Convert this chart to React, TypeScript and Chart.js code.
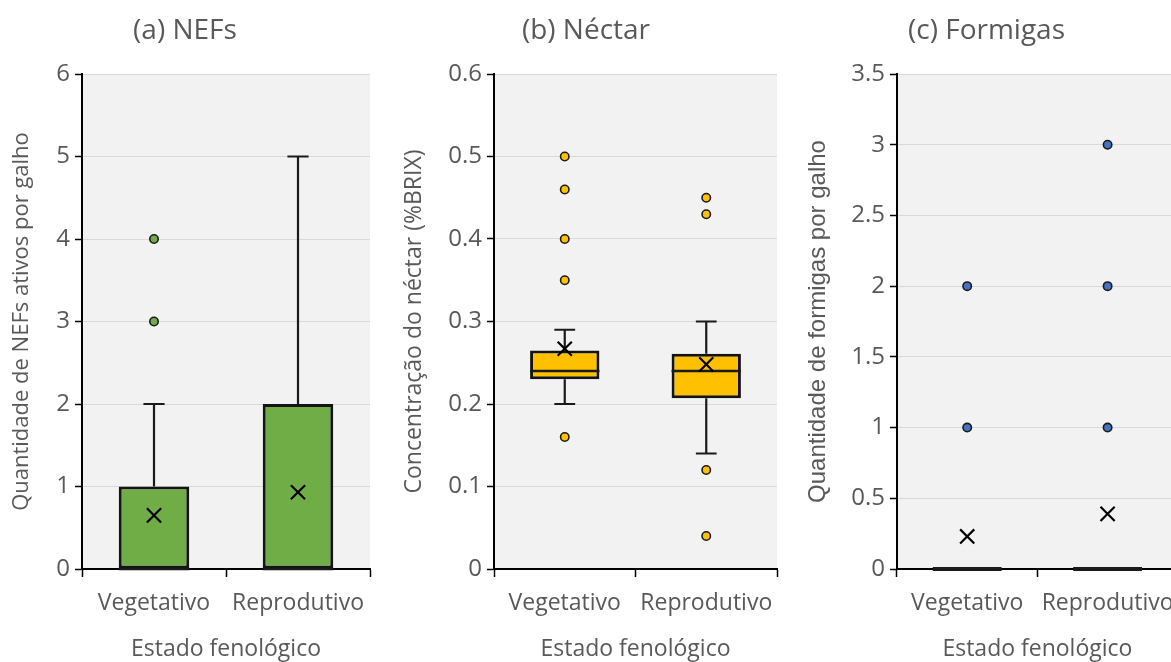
import React, { useEffect, useRef } from 'react';
import { Chart, registerables } from 'chart.js';

Chart.register(...registerables);

const categories = ['Vegetativo', 'Reprodutivo'];

// (a) NEFs
const nefMin = [0, 0];
const nefQ1 = [0, 0];
const nefMedian = [0, 0];
const nefQ3 = [1, 2];
const nefMax = [2, 5];
const nefMean = [0.65, 0.93];
const nefOutliersVeg = [3, 4];
const nefOutliersRep: number[] = [];
const nefTicks = [0, 1, 2, 3, 4, 5, 6];

// (b) Néctar
const nectarMin = [0.2, 0.14];
const nectarQ1 = [0.23, 0.207];
const nectarMedian = [0.24, 0.24];
const nectarQ3 = [0.265, 0.261];
const nectarMax = [0.29, 0.3];
const nectarMean = [0.267, 0.248];
const nectarOutliersVeg = [0.5, 0.46, 0.4, 0.35, 0.16];
const nectarOutliersRep = [0.45, 0.43, 0.12, 0.04];
const nectarTicks = [0, 0.1, 0.2, 0.3, 0.4, 0.5, 0.6];

// (c) Formigas
const antMin = [0, 0];
const antQ1 = [0, 0];
const antMedian = [0, 0];
const antQ3 = [0, 0];
const antMax = [0, 0];
const antMean = [0.23, 0.39];
const antOutliersVeg = [1, 2];
const antOutliersRep = [1, 2, 3];
const antTicks = [0, 0.5, 1, 1.5, 2, 2.5, 3, 3.5];

const TEXT = '#595959';

const boxPlugin = {
  id: 'boxWhisker',
  beforeDraw(chart: any, _args: any, opts: any) {
    const { ctx, chartArea: a } = chart;
    ctx.save();
    ctx.fillStyle = opts.background;
    ctx.fillRect(a.left, a.top, a.right - a.left, a.bottom - a.top);
    ctx.restore();
  },
  beforeDatasetsDraw(chart: any, _args: any, opts: any) {
    const { ctx } = chart;
    const y = chart.scales.y;
    const meta = chart.getDatasetMeta(opts.boxIndex);
    ctx.save();
    ctx.strokeStyle = opts.lineColor;
    ctx.lineWidth = opts.whiskerWidth;
    meta.data.forEach((bar: any, i: number) => {
      const { x, width } = bar.getProps(['x', 'width'], true);
      const capHalf = (width * opts.capFraction) / 2;
      const pairs = [
        [opts.q3[i], opts.max[i]],
        [opts.q1[i], opts.min[i]],
      ];
      pairs.forEach(([from, to]) => {
        if (from === to) return;
        const y0 = y.getPixelForValue(from);
        const y1 = y.getPixelForValue(to);
        ctx.beginPath();
        ctx.moveTo(x, y0);
        ctx.lineTo(x, y1);
        ctx.moveTo(x - capHalf, y1);
        ctx.lineTo(x + capHalf, y1);
        ctx.stroke();
      });
    });
    ctx.restore();
  },
  afterDatasetDraw(chart: any, args: any, opts: any) {
    if (args.index !== opts.boxIndex) return;
    const { ctx } = chart;
    const y = chart.scales.y;
    const meta = chart.getDatasetMeta(opts.boxIndex);
    ctx.save();
    ctx.strokeStyle = opts.lineColor;
    meta.data.forEach((bar: any, i: number) => {
      const { x, width } = bar.getProps(['x', 'width'], true);
      const py = y.getPixelForValue(opts.median[i]);
      ctx.lineWidth = opts.q1[i] === opts.q3[i] ? opts.flatWidth : opts.medianWidth;
      ctx.beginPath();
      ctx.moveTo(x - width / 2, py);
      ctx.lineTo(x + width / 2, py);
      ctx.stroke();
    });
    ctx.restore();
  },
};

type PanelProps = {
  left: number;
  width: number;
  yAxisWidth: number;
  padRight: number;
  title: string;
  yTitle: string;
  yTitleFont: { family: string; size: number };
  yTitlePad: number;
  ticks: number[];
  yMax: number;
  min: number[];
  q1: number[];
  median: number[];
  q3: number[];
  max: number[];
  mean: number[];
  outVeg: number[];
  outRep: number[];
  color: string;
};

function BoxPanel(p: PanelProps) {
  const ref = useRef<HTMLCanvasElement | null>(null);
  useEffect(() => {
    if (!ref.current) return;
    const outliers = [
      ...p.outVeg.map((v) => ({ x: categories[0], y: v })),
      ...p.outRep.map((v) => ({ x: categories[1], y: v })),
    ];
    const means = p.mean.map((v, i) => ({ x: categories[i], y: v }));
    const chart = new Chart(ref.current, {
      type: 'bar',
      data: {
        labels: categories,
        datasets: [
          {
            type: 'line',
            data: means as any,
            showLine: false,
            pointStyle: 'crossRot',
            pointRadius: 10,
            pointBorderColor: '#000',
            pointBorderWidth: 2.2,
          } as any,
          {
            type: 'line',
            data: outliers as any,
            showLine: false,
            pointStyle: 'circle',
            pointRadius: 4.2,
            pointBackgroundColor: p.color,
            pointBorderColor: '#1a1a1a',
            pointBorderWidth: 1.6,
          } as any,
          {
            type: 'bar',
            data: p.q1.map((v, i) => [v, p.q3[i]]) as any,
            backgroundColor: p.color,
            borderColor: '#141414',
            borderWidth: 3,
            borderSkipped: false,
            barPercentage: 0.49,
            categoryPercentage: 1,
          } as any,
        ],
      },
      options: {
        animation: false,
        responsive: false,
        layout: { padding: { left: 0, right: p.padRight, top: 0, bottom: 0 } },
        plugins: {
          legend: { display: false },
          tooltip: { enabled: false },
          title: {
            display: true,
            text: p.title,
            color: TEXT,
            font: { family: 'Open Sans', size: 28, weight: 'normal' },
            padding: { top: 14, bottom: 26.4 },
          },
          boxWhisker: {
            background: '#f2f2f2',
            boxIndex: 2,
            min: p.min,
            q1: p.q1,
            median: p.median,
            q3: p.q3,
            max: p.max,
            capFraction: 0.3,
            lineColor: '#1a1a1a',
            whiskerWidth: 2.2,
            medianWidth: 2.5,
            flatWidth: 4,
          },
        } as any,
        scales: {
          x: {
            type: 'category',
            offset: true,
            grid: {
              display: true,
              offset: true,
              drawOnChartArea: false,
              drawTicks: true,
              tickLength: 8,
              tickColor: '#000',
              tickWidth: 1.5,
            },
            border: { display: true, color: '#000', width: 2 },
            ticks: {
              color: TEXT,
              font: { family: 'Open Sans', size: 23 },
              padding: 13,
              maxRotation: 0,
            },
            title: {
              display: true,
              text: 'Estado fenológico',
              color: TEXT,
              font: { family: 'Open Sans', size: 23 },
              padding: { top: 0, bottom: -1 },
            },
            afterFit: (s: any) => {
              s.height = 93;
            },
          },
          y: {
            type: 'linear',
            min: 0,
            max: p.yMax,
            grid: {
              color: '#d9d9d9',
              lineWidth: 1,
              tickColor: '#000',
              tickLength: 7,
              tickWidth: 1.5,
            },
            border: { display: true, color: '#000', width: 2 },
            ticks: {
              color: TEXT,
              font: { family: 'Open Sans', size: 24 },
              padding: 5,
              callback: (v: any) => String(v),
            },
            afterBuildTicks: (s: any) => {
              s.ticks = p.ticks.map((v) => ({ value: v }));
            },
            title: {
              display: true,
              text: p.yTitle,
              color: TEXT,
              font: p.yTitleFont,
              padding: { top: p.yTitlePad, bottom: 0 },
            },
            afterFit: (s: any) => {
              s.width = p.yAxisWidth;
            },
          },
        },
      } as any,
      plugins: [boxPlugin as any],
    });
    return () => chart.destroy();
  }, []);
  return (
    <div style={{ position: 'absolute', left: p.left, top: 0, width: p.width, height: 662 }}>
      <canvas ref={ref} width={p.width} height={662} style={{ display: 'block' }} />
    </div>
  );
}

export default function App() {
  return (
    <div
      style={{
        position: 'absolute',
        left: 0,
        top: 0,
        width: 1171,
        height: 662,
        overflow: 'hidden',
        background: '#fff',
      }}
    >
      <BoxPanel
        left={0}
        width={395}
        yAxisWidth={82}
        padRight={25}
        title="(a) NEFs"
        yTitle="Quantidade de NEFs ativos por galho"
        yTitleFont={{ family: 'Open Sans', size: 22 }}
        yTitlePad={9}
        ticks={nefTicks}
        yMax={6}
        min={nefMin}
        q1={nefQ1}
        median={nefMedian}
        q3={nefQ3}
        max={nefMax}
        mean={nefMean}
        outVeg={nefOutliersVeg}
        outRep={nefOutliersRep}
        color="#70ad47"
      />
      <BoxPanel
        left={395}
        width={400}
        yAxisWidth={99}
        padRight={18}
        title="(b) Néctar"
        yTitle="Concentração do néctar (%BRIX)"
        yTitleFont={{ family: 'Open Sans', size: 23 }}
        yTitlePad={6}
        ticks={nectarTicks}
        yMax={0.6}
        min={nectarMin}
        q1={nectarQ1}
        median={nectarMedian}
        q3={nectarQ3}
        max={nectarMax}
        mean={nectarMean}
        outVeg={nectarOutliersVeg}
        outRep={nectarOutliersRep}
        color="#ffc000"
      />
      <BoxPanel
        left={795}
        width={395}
        yAxisWidth={102}
        padRight={12}
        title="(c) Formigas"
        yTitle="Quantidade de formigas por galho"
        yTitleFont={{ family: 'Liberation Sans', size: 24 }}
        yTitlePad={8.6}
        ticks={antTicks}
        yMax={3.5}
        min={antMin}
        q1={antQ1}
        median={antMedian}
        q3={antQ3}
        max={antMax}
        mean={antMean}
        outVeg={antOutliersVeg}
        outRep={antOutliersRep}
        color="#4472c4"
      />
    </div>
  );
}
